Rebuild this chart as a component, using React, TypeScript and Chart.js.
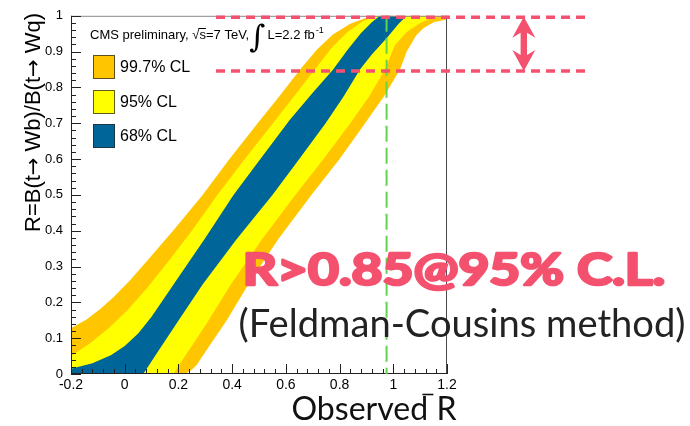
import { useEffect, useRef } from 'react';
import { Chart, registerables } from 'chart.js';

Chart.register(...registerables);

type Pt = [number, number];

// Confidence-belt edges: observed R (x) versus true R (y), listed bottom to top.
const ORANGE_LEFT: Pt[] = [
  [-0.2, 0.128], [-0.142, 0.152], [-0.09, 0.182], [-0.04, 0.216], [0.02, 0.262],
  [0.09, 0.322], [0.18, 0.4], [0.29, 0.5], [0.39, 0.6], [0.495, 0.7],
  [0.575, 0.775], [0.653, 0.85], [0.715, 0.905], [0.775, 0.948], [0.84, 0.978], [0.92, 1.0],
];
const YELLOW_LEFT: Pt[] = [
  [-0.2, 0.05], [-0.13, 0.085], [-0.06, 0.128], [0.01, 0.178], [0.08, 0.237],
  [0.16, 0.312], [0.25, 0.4], [0.345, 0.5], [0.447, 0.6], [0.552, 0.7],
  [0.63, 0.775], [0.708, 0.85], [0.77, 0.91], [0.83, 0.955], [0.885, 0.984], [0.935, 1.0],
];
const BLUE_LEFT: Pt[] = [
  [-0.2, 0.015], [-0.12, 0.03], [-0.05, 0.053], [0.0, 0.078], [0.05, 0.113],
  [0.1, 0.16], [0.2, 0.27], [0.3, 0.38], [0.405, 0.5], [0.51, 0.605],
  [0.615, 0.71], [0.7, 0.785], [0.776, 0.85], [0.83, 0.905], [0.88, 0.952],
  [0.92, 0.982], [0.95, 1.0],
];
const BLUE_RIGHT: Pt[] = [
  [0.069, 0], [0.119, 0.057], [0.193, 0.141], [0.29, 0.25], [0.415, 0.375],
  [0.55, 0.5], [0.65, 0.6], [0.748, 0.7], [0.815, 0.775], [0.876, 0.85],
  [0.92, 0.892], [0.975, 0.937], [1.02, 0.978], [1.05, 1.0],
];
const YELLOW_RIGHT: Pt[] = [
  [0.181, 0], [0.231, 0.057], [0.305, 0.141], [0.395, 0.25], [0.51, 0.375],
  [0.635, 0.5], [0.74, 0.6], [0.84, 0.7], [0.91, 0.775], [0.969, 0.85],
  [1.006, 0.918], [1.05, 0.955], [1.1, 0.98], [1.14, 0.993], [1.17, 1.0],
];
const ORANGE_RIGHT: Pt[] = [
  [0.224, 0], [0.25, 0.012], [0.268, 0.025], [0.305, 0.067], [0.38, 0.15],
  [0.46, 0.25], [0.57, 0.375], [0.695, 0.5], [0.8, 0.6], [0.895, 0.7],
  [0.965, 0.775], [1.025, 0.85], [1.05, 0.9], [1.085, 0.945], [1.112, 0.965],
  [1.15, 0.982], [1.2, 0.99],
];

const LEVELS = ['99.7% CL', '95% CL', '68% CL'];
const LEVEL_COLORS = ['#FFC600', '#FFFF00', '#006699'];

const X_MIN = -0.2;
const X_MAX = 1.2;
const X_STEP = 0.2;
const Y_MIN = 0;
const Y_MAX = 1;
const Y_STEP = 0.1;

const OBSERVED_R = 0.975;     // measured value (green dashed line)
const R_LIMIT = 0.85;         // lower limit at 95% C.L.
const R_UPPER = 1.0;
const MARKER_SPAN: Pt = [0.34, 1.725]; // extent of the pink guide lines in R
const ARROW_R = 1.486;

const CMS_LABEL = 'CMS preliminary, √s=7 TeV,';
const LUMI_LABEL = 'L=2.2 fb';
const Y_TITLE_RUNS = ['R=B(t', '→', ' Wb)/B(t', '→', ' Wq)'];
const X_TITLE_MAIN = 'Observed';
const X_TITLE_VAR = 'R';
const RESULT_TEXT = 'R>0.85@95% C.L.';
const METHOD_TEXT = '(Feldman-Cousins method)';

const PINK = '#F4516F';
const SANS = '"Liberation Sans", Arial, sans-serif';

function bandShape(left: Pt[], right: Pt[]) {
  const pts = left.map(([x, y]) => ({ x, y }));
  const top = right[right.length - 1];
  if (top[1] < Y_MAX) pts.push({ x: top[0], y: Y_MAX });
  for (let i = right.length - 1; i >= 0; i--) pts.push({ x: right[i][0], y: right[i][1] });
  pts.push({ x: left[0][0], y: Y_MIN });
  return pts;
}

// single-line text stretched to a given width; optional outline thickens the strokes
function fitText(
  ctx: CanvasRenderingContext2D, text: string, x: number, y: number,
  font: string, width: number, color: string, outline = 0,
) {
  ctx.save();
  ctx.font = font;
  const w = ctx.measureText(text).width;
  ctx.translate(x + outline / 2, y);
  ctx.scale((width - outline) / w, 1);
  ctx.fillStyle = color;
  ctx.textBaseline = 'alphabetic';
  ctx.textAlign = 'left';
  ctx.fillText(text, 0, 0);
  if (outline > 0) {
    ctx.lineWidth = outline;
    ctx.lineJoin = 'round';
    ctx.strokeStyle = color;
    ctx.strokeText(text, 0, 0);
  }
  ctx.restore();
}

// text made of runs in alternating fonts, stretched to a given width
function fitRuns(
  ctx: CanvasRenderingContext2D, runs: string[], fonts: string[],
  x: number, y: number, width: number, color: string,
) {
  ctx.save();
  let total = 0;
  const widths = runs.map((r, i) => {
    ctx.font = fonts[i % fonts.length];
    const w = ctx.measureText(r).width;
    total += w;
    return w;
  });
  ctx.translate(x, y);
  ctx.scale(width / total, 1);
  ctx.fillStyle = color;
  ctx.textBaseline = 'alphabetic';
  ctx.textAlign = 'left';
  let cur = 0;
  runs.forEach((r, i) => {
    ctx.font = fonts[i % fonts.length];
    ctx.fillText(r, cur, 0);
    cur += widths[i];
  });
  ctx.restore();
}

const fmt = (v: number | string) => String(Math.round(Number(v) * 100) / 100);

const overlay = {
  id: 'beltOverlay',
  afterDraw(chart: any) {
    const { ctx, chartArea: a, scales } = chart;
    const xs = scales.x;
    const ys = scales.y;
    const px = (v: number) => xs.getPixelForValue(v);
    const py = (v: number) => ys.getPixelForValue(v);

    ctx.save();

    // frame
    ctx.lineWidth = 1;
    ctx.strokeStyle = '#8a8a8a';
    ctx.beginPath();
    ctx.moveTo(a.left, a.top + 0.5);
    ctx.lineTo(a.right, a.top + 0.5);
    ctx.stroke();
    ctx.strokeStyle = '#4a4a4a';
    ctx.beginPath();
    ctx.moveTo(a.right - 0.5, a.top);
    ctx.lineTo(a.right - 0.5, a.bottom);
    ctx.stroke();
    ctx.strokeStyle = '#222';
    ctx.beginPath();
    ctx.moveTo(a.left + 0.5, a.top);
    ctx.lineTo(a.left + 0.5, a.bottom);
    ctx.moveTo(a.left, a.bottom - 0.5);
    ctx.lineTo(a.right, a.bottom - 0.5);
    ctx.stroke();

    // inward tick marks, 5 subdivisions per labelled step
    ctx.beginPath();
    const nx = Math.round((X_MAX - X_MIN) / X_STEP) * 5;
    for (let i = 0; i <= nx; i++) {
      const x = Math.round(px(X_MIN + (i * X_STEP) / 5)) + 0.5;
      const len = i % 5 === 0 ? 10 : 5;
      ctx.moveTo(x, a.bottom);
      ctx.lineTo(x, a.bottom - len);
    }
    const ny = Math.round((Y_MAX - Y_MIN) / Y_STEP) * 5;
    for (let i = 0; i <= ny; i++) {
      const y = Math.round(py(Y_MIN + (i * Y_STEP) / 5)) + 0.5;
      const len = i % 5 === 0 ? 10 : 5;
      ctx.moveTo(a.left, y);
      ctx.lineTo(a.left + len, y);
    }
    ctx.stroke();

    // measured value
    ctx.strokeStyle = '#62D44E';
    ctx.lineWidth = 2;
    ctx.setLineDash([16, 6]);
    ctx.beginPath();
    ctx.moveTo(px(OBSERVED_R), py(Y_MAX));
    ctx.lineTo(px(OBSERVED_R), py(Y_MIN));
    ctx.stroke();

    // guide lines at R = 1 and at the limit
    ctx.strokeStyle = PINK;
    ctx.lineWidth = 3.5;
    ctx.setLineDash([9, 6]);
    for (const r of [R_UPPER, R_LIMIT]) {
      ctx.beginPath();
      ctx.moveTo(px(MARKER_SPAN[0]), py(r) + 1.5);
      ctx.lineTo(px(MARKER_SPAN[1]), py(r) + 1.5);
      ctx.stroke();
    }
    ctx.setLineDash([]);

    // double-headed arrow between them
    const cx = px(ARROW_R);
    const yT = py(R_UPPER) + 1;
    const yB = py(R_LIMIT) + 1.5;
    const hw = 11.5, hl = 21, sw = 3.2, notch = 16;
    ctx.fillStyle = PINK;
    ctx.beginPath();
    ctx.moveTo(cx, yT);
    ctx.lineTo(cx + hw, yT + hl);
    ctx.lineTo(cx + sw, yT + notch);
    ctx.lineTo(cx + sw, yB - notch);
    ctx.lineTo(cx + hw, yB - hl);
    ctx.lineTo(cx, yB);
    ctx.lineTo(cx - hw, yB - hl);
    ctx.lineTo(cx - sw, yB - notch);
    ctx.lineTo(cx - sw, yT + notch);
    ctx.lineTo(cx - hw, yT + hl);
    ctx.closePath();
    ctx.fill();

    // legend
    const boxX = a.left + 22;
    const boxTops = [55, 90, 124];
    LEVELS.forEach((label, i) => {
      const top = boxTops[i];
      ctx.fillStyle = LEVEL_COLORS[i];
      ctx.fillRect(boxX, top, 22, 24);
      ctx.strokeStyle = 'rgba(40,40,40,0.75)';
      ctx.lineWidth = 1;
      ctx.strokeRect(boxX + 0.5, top + 0.5, 21, 23);
      ctx.fillStyle = '#000';
      ctx.font = '16px ' + SANS;
      ctx.textBaseline = 'middle';
      ctx.textAlign = 'left';
      ctx.fillText(label, boxX + 27, top + 13);
    });

    // experiment label
    ctx.font = '13px ' + SANS;
    ctx.textBaseline = 'alphabetic';
    ctx.fillStyle = '#000';
    const lx = 90;
    const lb = 39;
    ctx.fillText(CMS_LABEL, lx, lb);
    const pre = ctx.measureText('CMS preliminary, √').width;
    const sW = ctx.measureText('s').width;
    ctx.lineWidth = 1;
    ctx.strokeStyle = '#000';
    ctx.beginPath();
    ctx.moveTo(lx + pre - 1, lb - 10.5);
    ctx.lineTo(lx + pre + sW, lb - 10.5);
    ctx.stroke();
    ctx.font = '31px "DejaVu Serif", serif';
    ctx.fillText('∫', 249, lb + 8);
    ctx.font = '13px ' + SANS;
    ctx.fillText(LUMI_LABEL, 267.5, lb);
    const lw = ctx.measureText(LUMI_LABEL).width;
    ctx.font = '9px ' + SANS;
    ctx.fillText('-1', 267.5 + lw + 1, lb - 6);

    // y-axis title, aligned to the top of the axis
    ctx.save();
    ctx.translate(39.5, 232);
    ctx.rotate(-Math.PI / 2);
    fitRuns(ctx, Y_TITLE_RUNS, ['22px ' + SANS, '21px "DejaVu Sans", sans-serif'], 0, 0, 219, '#000');
    ctx.restore();

    // x-axis title
    const xt = 291.5;
    const xb = 420;
    const titleFont = '32px Lato, "Open Sans", sans-serif';
    ctx.font = titleFont;
    const wMain = ctx.measureText(X_TITLE_MAIN + ' ').width;
    const wAll = ctx.measureText(X_TITLE_MAIN + ' ' + X_TITLE_VAR).width;
    fitText(ctx, X_TITLE_MAIN + ' ' + X_TITLE_VAR, xt, xb, titleFont, 165, '#111');
    const k = 165 / wAll;
    ctx.strokeStyle = '#111';
    ctx.lineWidth = 1.6;
    ctx.beginPath();
    ctx.moveTo(xt + (wMain - 14) * k, 394.5);
    ctx.lineTo(xt + (wMain - 3) * k, 394.5);
    ctx.stroke();

    // result annotation
    fitText(ctx, RESULT_TEXT, 241.5, 285.3, 'bold 43px Lato, "Open Sans", sans-serif', 425, PINK, 2.6);
    fitText(ctx, METHOD_TEXT, 238.5, 336.5, '39px Lato, "Open Sans", sans-serif', 447, '#222');

    ctx.restore();
  },
};

export default function App() {
  const canvasRef = useRef<HTMLCanvasElement | null>(null);

  useEffect(() => {
    const canvas = canvasRef.current;
    if (!canvas) return;
    const band = (i: number, left: Pt[], right: Pt[]) => ({
      label: LEVELS[i],
      data: bandShape(left, right),
      backgroundColor: LEVEL_COLORS[i],
      borderColor: 'transparent',
      borderWidth: 0,
      pointRadius: 0,
      pointHoverRadius: 0,
      showLine: true,
      tension: 0,
      fill: 'shape',
    });
    const chart = new Chart(canvas, {
      type: 'scatter',
      data: {
        datasets: [
          band(2, BLUE_LEFT, BLUE_RIGHT),
          band(1, YELLOW_LEFT, YELLOW_RIGHT),
          band(0, ORANGE_LEFT, ORANGE_RIGHT),
        ] as any,
      },
      options: {
        animation: false,
        responsive: false,
        devicePixelRatio: 1,
        events: [],
        layout: { padding: { top: 14, right: 243, left: 0, bottom: 0 } },
        plugins: {
          legend: { display: false },
          title: { display: false },
          tooltip: { enabled: false },
        },
        scales: {
          x: {
            type: 'linear',
            min: X_MIN,
            max: X_MAX,
            grid: { display: false, drawTicks: false },
            border: { display: false },
            ticks: {
              stepSize: X_STEP,
              padding: 3,
              color: '#000',
              font: { family: SANS, size: 14 },
              callback: fmt,
              maxRotation: 0,
            },
            afterFit: (s: any) => { s.height = 52; },
          },
          y: {
            type: 'linear',
            min: Y_MIN,
            max: Y_MAX,
            grid: { display: false, drawTicks: false },
            border: { display: false },
            ticks: {
              stepSize: Y_STEP,
              padding: 8,
              color: '#000',
              font: { family: SANS, size: 13 },
              callback: fmt,
            },
            afterFit: (s: any) => { s.width = 71; },
          },
        },
      },
      plugins: [overlay],
    });
    return () => chart.destroy();
  }, []);

  return (
    <div style={{ position: 'fixed', left: 0, top: 0, width: 690, height: 426, background: '#fff' }}>
      <canvas ref={canvasRef} width={690} height={426} style={{ width: 690, height: 426 }} />
    </div>
  );
}
